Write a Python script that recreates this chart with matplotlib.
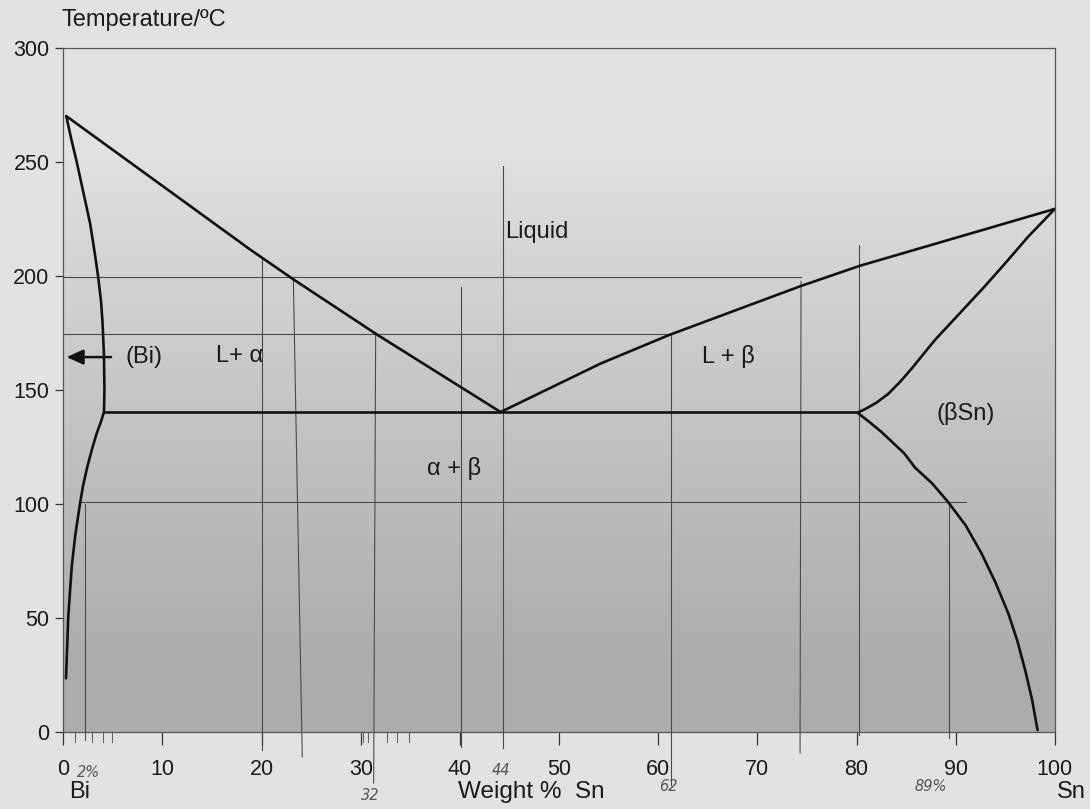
import numpy as np
import matplotlib
matplotlib.use("Agg")
import matplotlib.pyplot as plt

plt.rcParams['font.family'] = ['Liberation Sans', 'DejaVu Sans']

# ---------------- data ----------------
# Bi-rich liquidus
liq_bi_x = [0.3, 18.9, 23.2, 31.7, 44.1]
liq_bi_t = [270, 211.3, 198.4, 174, 140.2]
# Sn-rich liquidus
liq_sn_x = [44.1, 54.2, 61.1, 74.4, 80.3, 100]
liq_sn_t = [140.2, 161.5, 174, 195.5, 204.3, 229.3]
# Bi solidus + solvus
bi_sol_x = [0.3, 0.8, 1.35, 2.0, 2.7, 3.1, 3.5, 3.8, 3.95, 4.1, 4.15, 4.1, 3.8, 3.37, 2.9, 2.42, 2.0, 1.69, 1.2, 0.85, 0.5, 0.27]
bi_sol_t = [270, 260, 250, 237, 223, 212, 200, 189, 180, 165, 150, 140.2, 136, 130.9, 124, 116.2, 108, 100.2, 86, 72.4, 50.4, 23.4]
# Sn solidus
sn_sol_x = [80.1, 81.0, 82.0, 83.2, 84.4, 85.6, 87.9, 90.4, 92.9, 95.1, 97.3, 100]
sn_sol_t = [139.9, 141.8, 144.3, 148.2, 153.5, 159.5, 171.8, 183.5, 195.2, 206, 217.1, 229.3]
# Sn solvus
sn_solv_x = [80.1, 81.3, 82.5, 84.8, 85.9, 87.6, 89.2, 91.0, 92.6, 94.0, 95.3, 96.2, 97, 97.7, 98.25]
sn_solv_t = [139.9, 135.8, 131.5, 122.1, 115.8, 109, 100.9, 90.5, 78.2, 65.5, 51.9, 40, 27, 14, 0.7]
# eutectic line
eut_x = [4.1, 80.1]
eut_t = [140.2, 140.2]

# hand-drawn construction lines: vertical (x_top, x_bottom, t_top, t_bottom)
vl_xtop = [2.2, 20.0, 23.2, 31.5, 40.1, 44.3, 61.3, 74.4, 80.2, 89.3]
vl_xbot = [2.2, 20.0, 24.1, 31.3, 40.1, 44.3, 61.3, 74.3, 80.2, 89.3]
vl_ttop = [100, 207.6, 198.4, 174, 195.2, 248, 174, 197.4, 213.4, 100.9]
vl_tbot = [-3.6, -8, -11, -22.5, -6.7, -7.1, -23.4, -9.3, -1.4, -2.8]
# horizontal (t, x_start, x_end)
hl_t = [199.5, 174.6, 100.9]
hl_x0 = [0, 0, 1.7]
hl_x1 = [74.4, 61.3, 91.0]

# handwritten minor marks on the x axis
hand_ticks = [1.2, 2.9, 4.0, 4.9, 30.2, 30.7, 32.6, 33.7, 34.9]
# handwritten notes (text, x, t)
notes = [("2%", 2.5, -18), ("32", 31.0, -28), ("44", 44.1, -17), ("62", 61.0, -24), ("89%", 87.5, -24)]

xticks = list(range(0, 101, 10))
yticks = list(range(0, 301, 50))

# region labels (text, x, t, ha)
labels = [("Liquid", 44.6, 219, "left"), ("(Bi)", 8.1, 164.3, "center"),
          ("L+ \u03b1", 17.8, 164.7, "center"), ("L + \u03b2", 67.1, 164.7, "center"),
          ("(\u03b2Sn)", 91.0, 139.7, "center"), ("\u03b1 + \u03b2", 39.4, 115.6, "center")]

# ---------------- figure ----------------
W, H = 1090, 809
fig = plt.figure(figsize=(W / 100, H / 100), dpi=100)
fig.patch.set_facecolor('#e1e2e4')

x0px, x1px, y0px, y1px = 63.3, 1054.9, 731.7, 47.7
ax = fig.add_axes([x0px / W, 1 - y0px / H, (x1px - x0px) / W, (y0px - y1px) / H])
ax.set_xlim(0, 100)
ax.set_ylim(0, 300)

# scan-like shading of the plot area (light at top, darker at bottom)
g = np.linspace(0, 1, 256)[:, None]          # 0 = top row, 1 = bottom row
vals = np.clip((g - 0.15) / 0.75, 0, 1) ** 0.9
r = 0.885 - 0.21 * vals
img = np.dstack([r, r, r + 0.006])
ax.imshow(np.clip(img, 0, 1), extent=[0, 100, 0, 300], origin='upper', aspect='auto', zorder=0)

gc = '#4a4a4a'
for xt, xb, tt, tb in zip(vl_xtop, vl_xbot, vl_ttop, vl_tbot):
    ax.plot([xt, xb], [tt, tb], color=gc, lw=0.8, clip_on=False, zorder=2)
for t, a, b in zip(hl_t, hl_x0, hl_x1):
    ax.plot([a, b], [t, t], color=gc, lw=0.8, zorder=2)

pk = dict(color='#111111', lw=1.9, zorder=4, solid_capstyle='round', solid_joinstyle='round')
ax.plot(liq_bi_x, liq_bi_t, **pk)
ax.plot(liq_sn_x, liq_sn_t, **pk)
ax.plot(bi_sol_x, bi_sol_t, **pk)
ax.plot(sn_sol_x, sn_sol_t, **pk)
ax.plot(sn_solv_x, sn_solv_t, **pk)
ax.plot(eut_x, eut_t, **pk)

# arrow pointing to Bi side
ax.annotate("", xy=(0.05, 164.3), xytext=(5.1, 164.3),
            arrowprops=dict(arrowstyle='-|>,head_length=1.0,head_width=0.45', color='#111111', lw=1.8),
            zorder=5)

for txt, x, t, ha in labels:
    ax.text(x, t, txt, ha=ha, va='center', fontsize=17, color='#1a1a1a', zorder=6)

# spines
for s in ['left', 'right', 'top', 'bottom']:
    ax.spines[s].set_color('#555555')
    ax.spines[s].set_linewidth(0.9)

ax.set_xticks(xticks)
ax.set_yticks(yticks)
ax.tick_params(axis='both', direction='out', colors='#333333', labelcolor='#1a1a1a', labelsize=15.5, width=0.9)
ax.tick_params(axis='x', length=9, pad=11)
ax.tick_params(axis='y', length=6, pad=4)

for hx in hand_ticks:
    ax.plot([hx, hx], [0, -4.5], color='#666666', lw=0.8, clip_on=False, zorder=2)

for txt, x, t in notes:
    ax.text(x, t, txt, ha='center', va='center', fontsize=10.5, color='#555555',
            family='DejaVu Sans', fontstyle='italic', zorder=6)

fig.text(62 / W, 1 - 20 / H, "Temperature/\u00baC", ha='left', va='center', fontsize=17, color='#1a1a1a')
fig.text(531 / W, 1 - 792 / H, "Weight %  Sn", ha='center', va='center', fontsize=17.5, color='#1a1a1a')
fig.text(80 / W, 1 - 792 / H, "Bi", ha='center', va='center', fontsize=17, color='#1a1a1a')
fig.text(1071 / W, 1 - 792 / H, "Sn", ha='center', va='center', fontsize=17, color='#1a1a1a')

fig.savefig("out.png", dpi=100, facecolor=fig.get_facecolor())
